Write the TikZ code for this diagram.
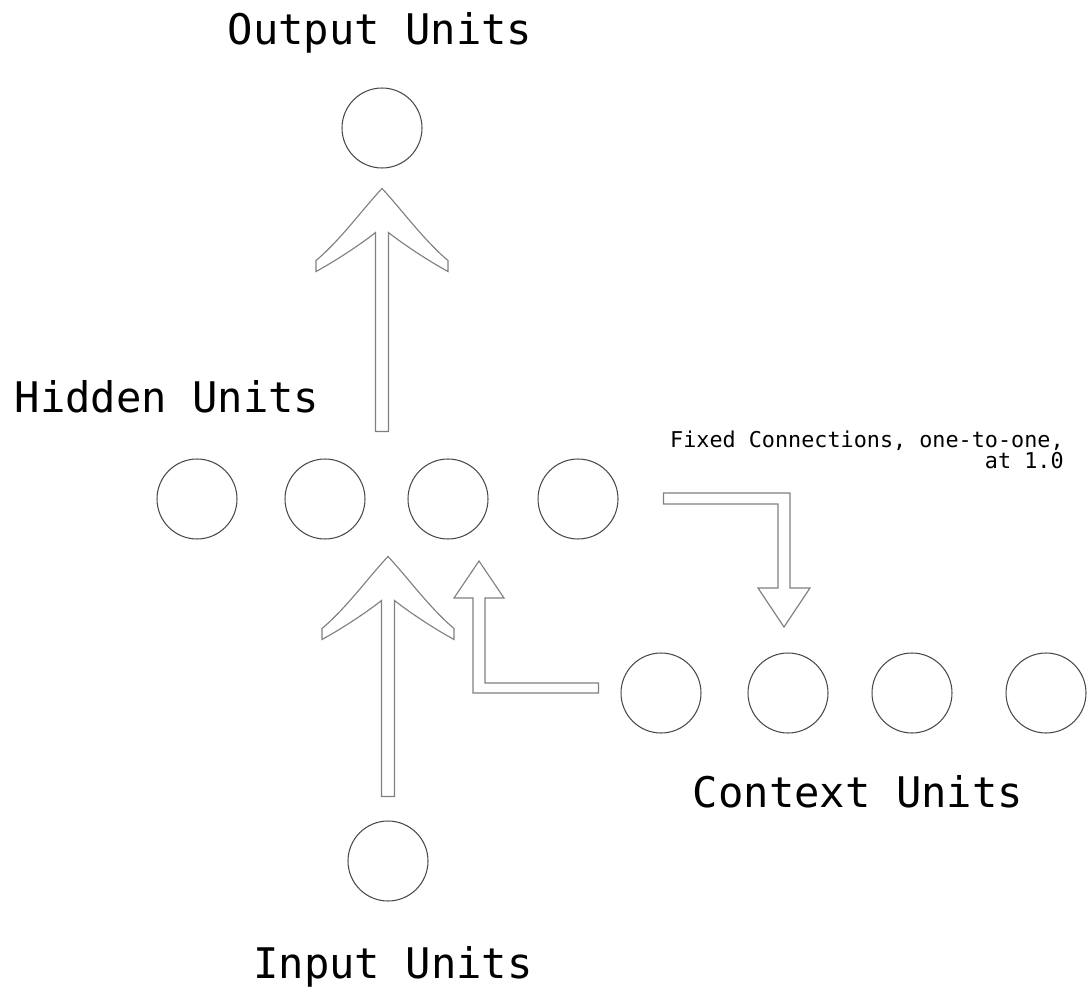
\documentclass[tikz,border=0pt]{standalone}
\usepackage{fontspec}
\setmonofont{DejaVu Sans Mono}
\usepackage{tikz}
\usetikzlibrary{positioning, calc}
\definecolor{unitline}{HTML}{4A4A4A}
\definecolor{flowline}{HTML}{808080}

\begin{document}
\begin{tikzpicture}[x=0.02cm, y=-0.02cm,
    unit/.style={circle, draw=unitline, line width=0.6pt, minimum size=1.6cm, inner sep=0pt},
    layertitle/.style={font=\ttfamily\fontsize{24}{28}\selectfont, anchor=base, inner sep=0pt},
    flow/.style={draw=flowline, line width=0.65pt, line join=miter},
    pics/swept/.style={code={
      \draw[flow] (0,0) .. controls (-18,19) and (-42,52) .. (-66,72) -- (-66,83)
        .. controls (-44,71) and (-19,54) .. (-6.5,44) -- (-6.5,#1) -- (6.5,#1) -- (6.5,44)
        .. controls (19,54) and (44,71) .. (66,83) -- (66,72)
        .. controls (42,52) and (18,19) .. (0,0) -- cycle;
    }}
  ]
    \useasboundingbox (0,0) rectangle (1088,1000);

    % units
    \node[unit] (o) at (382,128) {};
    \foreach \n/\x in {1/197, 2/325, 3/448, 4/578}
      \node[unit] (h\n) at (\x,499) {};
    \foreach \n/\x in {1/661, 2/788, 3/912, 4/1046}
      \node[unit] (c\n) at (\x,693) {};
    \node[unit] (i) at (388,861) {};

    % layer titles
    \node[layertitle] (ot) at (380,45) {Output Units};
    \node[layertitle] (ht) at (167,412) {Hidden Units};
    \node[layertitle] (ct) at (858,807) {Context Units};
    \node[layertitle] (it) at (393,978) {Input Units};
    \node[font=\ttfamily\fontsize{12.4}{11.5}\selectfont, align=right, anchor=north east, inner sep=0pt]
      (fx) at (1064,431) {Fixed Connections, one-to-one,\\at 1.0};

    % feed-forward arrows
    \pic at ($(o.south)+(0,20)$) {swept=243};
    \pic at ($(i.north)+(0,-264)$) {swept=240};

    % copy to context and back
    \draw[flow] ($(h4.east)+(45,-6)$) -- (790,493) -- (790,588) -- (810,588) -- (784,627)
      -- (758,588) -- (778,588) -- (778,504) -- ($(h4.east)+(45,5)$) -- cycle;
    \draw[flow] ($(c1.west)+(-22,-10)$) -- (485,683) -- (485,598) -- (504,598) -- (479,561)
      -- (454,598) -- (473,598) -- (473,693) -- ($(c1.west)+(-22,0)$) -- cycle;
\end{tikzpicture}
\end{document}
